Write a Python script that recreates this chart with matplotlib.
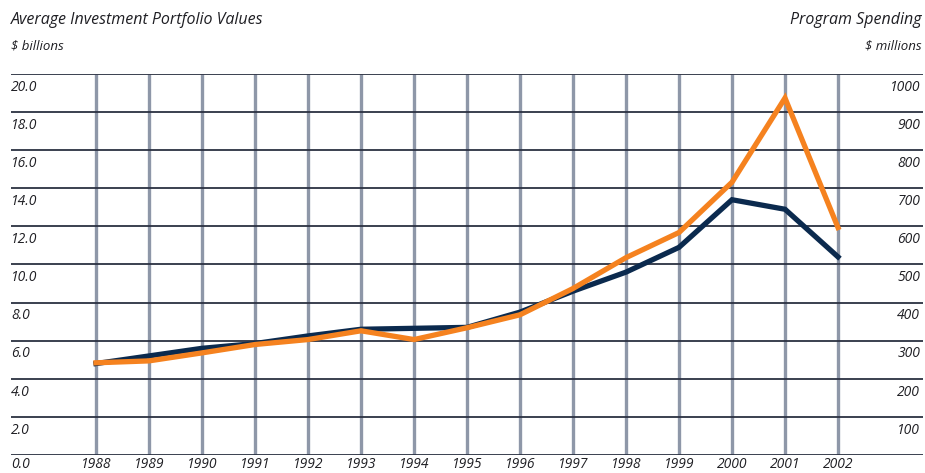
import numpy as np
import matplotlib.pyplot as plt
from matplotlib import transforms

years = list(range(1988, 2003))
portfolio = [4.8, 5.2, 5.6, 5.85, 6.25, 6.6, 6.65, 6.7, 7.5, 8.6, 9.6, 10.9, 13.4, 12.9, 10.4]
spending = [242, 247, 268, 290, 303, 326, 303, 334, 368, 437, 518, 584, 716, 937, 597]

left_ticks = [0, 2, 4, 6, 8, 10, 12, 14, 16, 18, 20]
right_ticks = [100, 200, 300, 400, 500, 600, 700, 800, 900, 1000]

navy = '#0b2a4e'
orange = '#f5821f'
txt = '#1f1f24'

plt.rcParams['font.family'] = ['Open Sans', 'DejaVu Sans']

fig = plt.figure(figsize=(9.25, 4.73), dpi=100)
ax = fig.add_axes([11/925, 18/473, 912/925, 381/473])
ax.set_xlim(1988 - 85/53, 2002 + 85/53)
ax.set_ylim(0, 20)
ax.axis('off')

for v in left_ticks:
    ax.axhline(v, color='#2b3141', lw=1.3, zorder=1)
for yr in years:
    ax.plot([yr, yr], [0, 20], color='#8e97a8', lw=2.4, zorder=0.5, solid_capstyle='butt')

ax.plot(years, portfolio, color=navy, lw=3.8, zorder=3, solid_joinstyle='miter')

ax2 = ax.twinx()
ax2.set_ylim(0, 1000)
ax2.axis('off')
ax2.plot(years, spending, color=orange, lw=3.8, zorder=4, solid_joinstyle='miter')

fs = 10
lt = transforms.blended_transform_factory(ax.transAxes, ax.transData)
for v in left_ticks[1:]:
    ax.text(0.0, v - 0.3, '%.1f' % v, transform=lt, ha='left', va='top',
            fontsize=fs, style='italic', color=txt)
rt = transforms.blended_transform_factory(ax2.transAxes, ax2.transData)
for v in right_ticks:
    ax2.text(0.997, v - 15, str(v), transform=rt, ha='right', va='top',
             fontsize=fs, style='italic', color=txt)

bt = transforms.blended_transform_factory(ax.transData, fig.transFigure)
for yr in years:
    ax.text(yr, 1/473, str(yr), transform=bt, ha='center', va='bottom',
            fontsize=fs, style='italic', color=txt)
ax.text(11/925, 1/473, '0.0', transform=fig.transFigure, ha='left', va='bottom',
        fontsize=fs, style='italic', color=txt)

fig.text(11/925, 1 - 20/473, 'Average Investment Portfolio Values', ha='left', va='center',
         fontsize=11.5, style='italic', color=txt)
fig.text(11/925, 1 - 46/473, '$ billions', ha='left', va='center',
         fontsize=9.5, style='italic', color=txt)
fig.text(922/925, 1 - 20/473, 'Program Spending', ha='right', va='center',
         fontsize=11.5, style='italic', color=txt)
fig.text(922/925, 1 - 46/473, '$ millions', ha='right', va='center',
         fontsize=9.5, style='italic', color=txt)

fig.savefig('out.png', dpi=100)
